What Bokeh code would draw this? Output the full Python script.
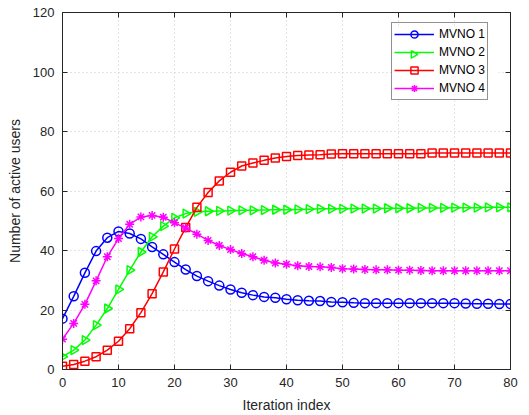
import math
from bokeh.plotting import figure
from bokeh.models import (LinearAxis, SingleIntervalTicker, Range1d,
                          CustomJSTickFormatter, Legend, LegendItem)
from bokeh.embed import file_html
from bokeh.resources import INLINE

iterations = list(range(0, 81, 2))

mvno1 = [17.1, 24.6, 32.5, 39.8, 44.3, 46.4, 45.7, 43.9, 41.2, 38.7,
         36.1, 33.6, 31.4, 29.7, 28.2, 26.9, 25.8, 25.0, 24.4, 24.1,
         23.6, 23.3, 23.1, 23.0, 22.7, 22.6, 22.4, 22.3, 22.3, 22.3,
         22.3, 22.3, 22.3, 22.3, 22.3, 22.3, 22.2, 22.1, 22.1, 22.0, 22.0]
mvno2 = [4.3, 6.5, 9.9, 14.9, 20.5, 26.9, 33.4, 39.5, 44.6, 48.2,
         51.0, 52.4, 53.0, 53.2, 53.3, 53.4, 53.5, 53.5, 53.6, 53.7,
         53.7, 53.8, 53.9, 54.0, 54.0, 54.0, 54.1, 54.1, 54.1, 54.2,
         54.2, 54.2, 54.3, 54.3, 54.3, 54.4, 54.4, 54.4, 54.5, 54.5, 54.5]
mvno3 = [1.1, 1.7, 2.8, 4.3, 6.5, 9.5, 13.7, 19.1, 25.5, 32.8,
         40.5, 47.7, 54.5, 59.5, 63.4, 66.3, 68.4, 69.4, 70.3, 71.1,
         71.6, 71.9, 72.1, 72.2, 72.4, 72.5, 72.5, 72.5, 72.5, 72.5,
         72.5, 72.5, 72.5, 72.8, 72.8, 72.8, 72.8, 72.8, 72.8, 72.8, 72.8]
mvno4 = [10.2, 15.5, 21.9, 29.8, 37.9, 44.0, 48.8, 51.3, 51.8, 51.2,
         49.3, 47.6, 45.5, 43.4, 41.7, 40.3, 39.0, 37.9, 36.7, 35.8,
         35.4, 34.9, 34.6, 34.5, 34.3, 33.9, 33.8, 33.6, 33.5, 33.5,
         33.4, 33.4, 33.3, 33.2, 33.2, 33.2, 33.2, 33.2, 33.2, 33.2, 33.2]

series_labels = ["MVNO 1", "MVNO 2", "MVNO 3", "MVNO 4"]
series_values = [mvno1, mvno2, mvno3, mvno4]
colors = ["#0000FF", "#00FF00", "#FF0000", "#FF00FF"]
markers = ["circle", "triangle", "square", "asterisk"]
angles = [0, -math.pi / 2, 0, 0]
sizes = [9, 9, 8, 9]

FONT = "Liberation Sans"
DARK = "#262626"

X0, X1, Y0, Y1 = 0, 80, 0, 120
FRAME_W, FRAME_H = 448, 358
BORDER_L, BORDER_R, BORDER_T, BORDER_B = 62, 19, 12, 45

p = figure(width=BORDER_L + FRAME_W + BORDER_R, height=BORDER_T + FRAME_H + BORDER_B,
           output_backend="svg", toolbar_location=None,
           x_range=Range1d(X0, X1), y_range=Range1d(Y0, Y1),
           min_border_left=BORDER_L, min_border_right=BORDER_R,
           min_border_top=BORDER_T, min_border_bottom=BORDER_B)


def to_data(px, py):
    return (X0 + px / FRAME_W * (X1 - X0), Y0 + py / FRAME_H * (Y1 - Y0))


# legend geometry (screen px relative to the frame's bottom-left corner)
LEG_PAD, ROW_H, GLYPH_W = 2, 18, 40
LEG_LEFT = 329
LEG_W = 108
LEG_H = 2 * LEG_PAD + ROW_H * len(series_labels)
LEG_BOTTOM = FRAME_H - 13 - LEG_H

# opaque legend background drawn below the legend's own glyphs
bl = to_data(LEG_LEFT + 1, LEG_BOTTOM + 1)
tr = to_data(LEG_LEFT + LEG_W - 1, LEG_BOTTOM + LEG_H - 1)
p.quad(left=[bl[0]], right=[tr[0]], bottom=[bl[1]], top=[tr[1]],
       fill_color="white", line_color=None)

items = []
for i, (lab, vals, c, m, a, s) in enumerate(zip(series_labels, series_values, colors, markers, angles, sizes)):
    ln = p.line(iterations, vals, line_color=c, line_width=1.5)
    sc = p.scatter(iterations, vals, marker=m, size=s, angle=a, line_color=c,
                   fill_color=None, line_width=1.5)
    if a == 0:
        items.append(LegendItem(label=lab, renderers=[ln, sc]))
    else:
        items.append(LegendItem(label=lab, renderers=[ln]))
        # rotated marker for the legend entry (Bokeh legends draw markers unrotated)
        lx, ly = to_data(LEG_LEFT + LEG_PAD + GLYPH_W / 2,
                         LEG_BOTTOM + LEG_H - LEG_PAD - ROW_H * i - ROW_H / 2)
        p.scatter([lx], [ly], marker=m, size=7.5, angle=a, line_color=c,
                  fill_color=None, line_width=1.5)

p.xaxis.ticker = SingleIntervalTicker(interval=10)
p.yaxis.ticker = SingleIntervalTicker(interval=20)

for ax in [p.xaxis[0], p.yaxis[0]]:
    ax.major_tick_in = 5
    ax.major_tick_out = 0
    ax.minor_tick_line_color = None
    ax.axis_line_color = DARK
    ax.major_tick_line_color = DARK
    ax.major_label_text_font = FONT
    ax.major_label_text_font_size = "13px"
    ax.major_label_text_color = DARK
    ax.axis_label_text_font = FONT
    ax.axis_label_text_font_size = "14px"
    ax.axis_label_text_font_style = "normal"
    ax.axis_label_text_color = DARK

p.xaxis.axis_label = "Iteration index"
p.yaxis.axis_label = "Number of active users"
p.xaxis.major_label_standoff = 4
p.yaxis.major_label_standoff = 4
p.xaxis.axis_label_standoff = 7
p.yaxis.axis_label_standoff = 7

for loc, interval in [("right", 20), ("above", 10)]:
    ax = LinearAxis(ticker=SingleIntervalTicker(interval=interval),
                    formatter=CustomJSTickFormatter(code="return ''"))
    ax.major_tick_in = 5
    ax.major_tick_out = 0
    ax.minor_tick_line_color = None
    ax.axis_line_color = DARK
    ax.major_tick_line_color = DARK
    ax.major_label_text_font_size = "0px"
    ax.major_label_standoff = 0
    p.add_layout(ax, loc)

p.grid.grid_line_color = "#c8c8c8"
p.grid.grid_line_dash = "1 3"
p.xgrid.ticker = SingleIntervalTicker(interval=10)
p.ygrid.ticker = SingleIntervalTicker(interval=20)

p.outline_line_color = DARK
p.background_fill_color = "white"
p.border_fill_color = "white"

leg = Legend(items=items, location=(LEG_LEFT, LEG_BOTTOM))
leg.padding = LEG_PAD
leg.spacing = 0
leg.margin = 0
leg.glyph_width = GLYPH_W
leg.glyph_height = ROW_H
leg.label_height = ROW_H
leg.label_standoff = 5
leg.label_text_font = FONT
leg.label_text_font_size = "12px"
leg.label_text_color = "black"
leg.border_line_color = DARK
leg.border_line_width = 1.5
leg.background_fill_alpha = 0.0
p.add_layout(leg, "center")

open("out.html", "w").write(file_html(p, INLINE))
